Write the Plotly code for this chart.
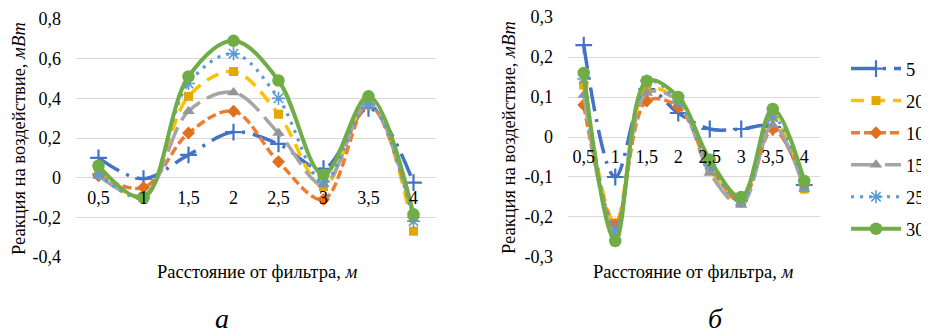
import plotly.graph_objects as go

# ---------------- data ----------------
dist = ["0,5", "1", "1,5", "2", "2,5", "3", "3,5", "4"]
series_names = ["5", "20", "10", "15", "25", "30"]

# chart (a)
a_5 = [0.10, -0.005, 0.115, 0.23, 0.17, 0.045, 0.35, -0.025]
a_20 = [0.03, -0.095, 0.41, 0.535, 0.32, -0.045, 0.39, -0.27]
a_10 = [0.01, -0.05, 0.225, 0.335, 0.08, -0.11, 0.37, -0.20]
a_15 = [0.01, -0.09, 0.335, 0.43, 0.225, -0.035, 0.38, -0.21]
a_25 = [0.02, -0.10, 0.475, 0.625, 0.40, -0.02, 0.37, -0.22]
a_30 = [0.06, -0.10, 0.51, 0.69, 0.49, 0.015, 0.41, -0.185]

# chart (б)
b_5 = [0.23, -0.10, 0.12, 0.06, 0.02, 0.02, 0.025, -0.12]
b_20 = [0.13, -0.215, 0.12, 0.09, -0.08, -0.16, 0.05, -0.13]
b_10 = [0.08, -0.22, 0.09, 0.075, -0.07, -0.16, 0.02, -0.12]
b_15 = [0.105, -0.24, 0.11, 0.09, -0.09, -0.17, 0.03, -0.13]
b_25 = [0.145, -0.23, 0.14, 0.09, -0.07, -0.16, 0.05, -0.12]
b_30 = [0.16, -0.26, 0.14, 0.10, -0.057, -0.15, 0.07, -0.11]

a_ticks = [0.8, 0.6, 0.4, 0.2, 0, -0.2, -0.4]
a_ticktext = ["0,8", "0,6", "0,4", "0,2", "0", "-0,2", "-0,4"]
b_ticks = [0.3, 0.2, 0.1, 0, -0.1, -0.2, -0.3]
b_ticktext = ["0,3", "0,2", "0,1", "0", "-0,1", "-0,2", "-0,3"]

x_title = "Расстояние от фильтра, <i>м</i>"
y_title = "Реакция на воздействие, <i>мВт</i>"

# ---------------- styles ----------------
styles = {
    "5": dict(color="#4472C4", dash="24px,8px,3px,8px", symbol="cross-thin", size=12, mline=2.2, width=3.5),
    "20": dict(color="#FFC000", dash="13px,8px", symbol="square", size=9, mline=0, width=3.5),
    "10": dict(color="#ED7D31", dash="9px,4px", symbol="diamond", size=10, mline=0, width=3.5),
    "15": dict(color="#A5A5A5", dash="26px,8px", symbol="triangle-up", size=11, mline=0, width=3.5),
    "25": dict(color="#5B9BD5", dash="3px,6px", symbol="asterisk-open", size=11, mline=1.6, width=3.2),
    "30": dict(color="#70AD47", dash="solid", symbol="circle", size=12.5, mline=0, width=4),
}
marker_fill = {"20": "#E0A800", "10": "#E07020", "15": "#959595"}

FONT = "Liberation Serif, Times New Roman, DejaVu Serif, serif"

fig = go.Figure()

def add_series(xa, ya, values, name, show):
    s = styles[name]
    open_sym = s["symbol"] in ("cross-thin", "asterisk-open")
    marker = dict(symbol=s["symbol"], size=s["size"],
                  color=marker_fill.get(name, s["color"]))
    if open_sym:
        marker["line"] = dict(color=s["color"], width=s["mline"])
    else:
        marker["line"] = dict(width=0)
    fig.add_trace(go.Scatter(
        x=dist, y=values, name=name, xaxis=xa, yaxis=ya,
        mode="lines+markers",
        line=dict(color=s["color"], width=s["width"], dash=s["dash"],
                  shape="spline", smoothing=1.0),
        marker=marker, showlegend=show, legendgroup=name, cliponaxis=False,
    ))

for nm, vals in zip(series_names, [a_5, a_20, a_10, a_15, a_25, a_30]):
    add_series("x", "y", vals, nm, False)
for nm, vals in zip(series_names, [b_5, b_20, b_10, b_15, b_25, b_30]):
    add_series("x2", "y2", vals, nm, True)

# the page body has an 8px margin: figure is placed at (8, 8) in the window
OFF = 8
W, H = 929 - OFF, 336 - OFF
def px_x(p):
    return (p - OFF) / W
def px_y(p):
    return 1 - (p - OFF) / H

gridc = "#D9D9D9"
tickfont = dict(family=FONT, size=18, color="#000000")
TF = 18.5
EPS = 1e-4

common = dict(zeroline=False, showline=False, ticks="", automargin=False,
              tickfont=tickfont, ticklabeloverflow="allow")

fig.update_layout(
    width=W, height=H,
    margin=dict(l=0, r=0, t=0, b=0, autoexpand=False),
    paper_bgcolor="white", plot_bgcolor="white",
    font=dict(family=FONT, size=18, color="#000000"),
    separators=", ",
    xaxis=dict(domain=[px_x(76), px_x(436)], type="category", categoryarray=dist,
               anchor="free", position=px_y(178), showgrid=False,
               ticklabelstandoff=7, range=[-0.5, 7.5], **common),
    yaxis=dict(domain=[px_y(257), px_y(19)], range=[-0.4 - EPS, 0.8 + EPS], tickvals=a_ticks,
               ticktext=a_ticktext, showgrid=True, gridcolor=gridc, gridwidth=1.2,
               ticklabelstandoff=14, anchor="x", **common),
    xaxis2=dict(domain=[px_x(568), px_x(820)], type="category", categoryarray=dist,
                anchor="free", position=px_y(137), showgrid=False,
                ticklabelstandoff=7, range=[-0.5, 7.5], **common),
    yaxis2=dict(domain=[px_y(257), px_y(17)], range=[-0.3 - EPS, 0.3 + EPS], tickvals=b_ticks,
                ticktext=b_ticktext, showgrid=True, gridcolor=gridc, gridwidth=1.2,
                ticklabelstandoff=14, anchor="x2", **common),
    legend=dict(x=px_x(846), y=px_y(50), xanchor="left", yanchor="top",
                font=dict(family=FONT, size=18.5, color="#000000"),
                tracegroupgap=5, bgcolor="rgba(0,0,0,0)", itemwidth=50),
    showlegend=True,
)

def ann(text, x, y, size=TF, angle=0, yanchor="middle"):
    return dict(text=text, x=px_x(x), y=px_y(y), xref="paper", yref="paper",
                xanchor="center", yanchor=yanchor, textangle=angle,
                showarrow=False, font=dict(family=FONT, size=size, color="#000000"))

annotations = [
    ann(x_title, 257, 272),
    ann(x_title, 693, 272),
    ann(y_title, 19, 139, angle=-90),
    ann(y_title, 509, 138, angle=-90),
    ann("<i>а</i>", 222, 336, size=28, yanchor="bottom"),
    ann("<i>б</i>", 715, 336, size=28, yanchor="bottom"),
]
fig.update_layout(annotations=annotations)

fig.write_html("out.html")
